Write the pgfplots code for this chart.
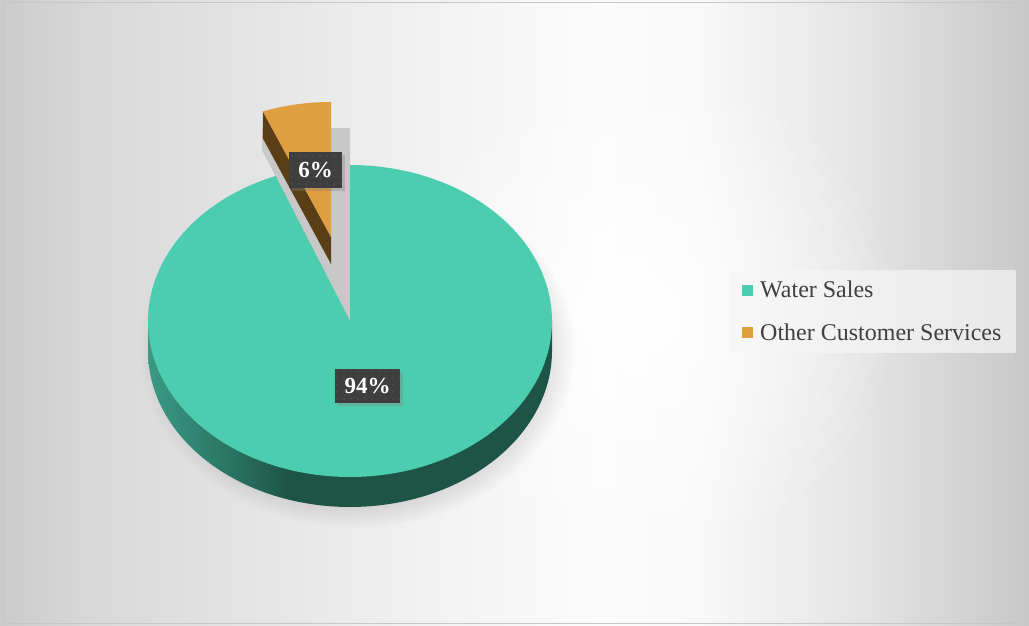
\documentclass[border=0pt]{standalone}
\usepackage{pgfplots}
\pgfplotsset{compat=1.18}
\usepackage{pgfplotstable}
\usepackage{fontspec}
\setmainfont{Liberation Serif}
\usetikzlibrary{shadows,patterns.meta,fadings}

\definecolor{tealtop}{HTML}{4DCDB0}
\definecolor{tealL}{HTML}{3A9A84}
\definecolor{tealM}{HTML}{2A7564}
\definecolor{tealD}{HTML}{1E5446}
\definecolor{orgtop}{HTML}{DF9E3F}
\definecolor{orgside}{HTML}{5A3E15}
\definecolor{gapgrey}{HTML}{C8C8C8}
\definecolor{labbg}{HTML}{3E3E3E}
\definecolor{dotc}{HTML}{5C5C5C}
\definecolor{legtext}{HTML}{404040}
\definecolor{bg0}{HTML}{CBCBCB}
\definecolor{bg1}{HTML}{D9D9D9}
\definecolor{bg2}{HTML}{E4E4E4}
\definecolor{bg3}{HTML}{F3F3F3}
\definecolor{bg4}{HTML}{FBFBFB}
\definecolor{bg5}{HTML}{F8F8F8}
\definecolor{bg6}{HTML}{E6E6E6}
\definecolor{bg7}{HTML}{D5D5D5}
\definecolor{bg8}{HTML}{C8C8C8}

% TikZ maps the middle part (25bp..75bp) of a shading onto the path's bounding box
\pgfdeclarehorizontalshading{bgh}{100bp}{color(0bp)=(bg0); color(25bp)=(bg0); color(29.85bp)=(bg1); color(37.15bp)=(bg2); color(46.85bp)=(bg3); color(54.15bp)=(bg4); color(59bp)=(bg5); color(66.3bp)=(bg6); color(71.15bp)=(bg7); color(75bp)=(bg8); color(100bp)=(bg8)}
\pgfdeclarehorizontalshading{tealside}{100bp}{color(0bp)=(tealL); color(25bp)=(tealL); color(35bp)=(tealM); color(42.5bp)=(tealD); color(100bp)=(tealD)}
\tikzfading[name=softglow, inner color=transparent!0, outer color=transparent!100]

\pgfplotstableread{
label value
WaterSales 94
OtherCustomerServices 6
}\piedata

\begin{document}
\begin{tikzpicture}
\pgfplotstablegetelem{1}{value}\of\piedata
\let\vB\pgfplotsretval
\pgfmathsetmacro\angB{90+3.6*\vB}
% exploded slice geometry
\pgfmathsetmacro\Px{331+185*cos(\angB)}
\pgfmathsetmacro\Py{237-135*sin(\angB)}
\pgfmathsetmacro\Pyd{\Py+27}
\begin{axis}[
  scale only axis, width=1029pt, height=626pt,
  xmin=0, xmax=1029, ymin=0, ymax=626, y dir=reverse,
  hide axis, clip=true,
  legend style={at={(axis cs:730,270)}, anchor=north west, draw=none,
    shade, left color=white!97!black, right color=white!91!black,
    text=legtext, font=\fontsize{24}{28}\selectfont,
    inner xsep=12pt, inner ysep=9pt, row sep=20pt,
    /tikz/every odd column/.append style={column sep=5pt}},
  legend cell align=left,
  legend image code/.code={\fill[#1] (0pt,-5.5pt) rectangle (11pt,5.5pt);},
]
% background
\path[shading=bgh] (axis cs:0,0) rectangle (axis cs:1029,626);
\fill[white, opacity=0.8, path fading=softglow] (axis cs:380,60) rectangle (axis cs:900,566);
% pie shadow
\addplot[forget plot, draw=none, fill=black, fill opacity=0.16,
  path fading=circle with fuzzy edge 20 percent, domain=0:360, samples=120]
  ({357+218*cos(x)},{350-178*sin(x)}) -- cycle;
% teal side
\addplot[forget plot, draw=none, shading=tealside, domain=180:360, samples=120]
  ({350+202*cos(x)},{351-156*sin(x)}) -- (axis cs:552,321) -- (axis cs:148,321) -- cycle;
% gap shadow
\addplot[forget plot, draw=none, fill=gapgrey]
  coordinates {(331,128) (350,128) (350,321) (262,150) (262,128)} -- cycle;
% teal top
\addplot[draw=none, fill=tealtop, domain=\angB:450, samples=180]
  ({350+202*cos(x)},{321-156*sin(x)}) -- (axis cs:350,321) -- cycle;
\addlegendentry{Water Sales}
% orange side
\addplot[forget plot, draw=none, fill=orgside]
  coordinates {(\Px,\Py) (331,237) (331,264) (\Px,\Pyd)} -- cycle;
% orange top
\addplot[draw=none, fill=orgtop, domain=90:\angB, samples=40]
  ({331+185*cos(x)},{237-135*sin(x)}) -- (axis cs:331,237) -- cycle;
\addlegendentry{Other Customer Services}
% data labels
\node[fill=labbg, text=white, font=\bfseries\fontsize{23}{23}\selectfont,
  minimum width=53pt, minimum height=36pt, inner sep=0pt,
  drop shadow={opacity=0.35, shadow xshift=3pt, shadow yshift=-3pt},
  postaction={pattern={Dots[distance=6.5pt, radius=0.8pt]}, pattern color=dotc}]
  at (axis cs:315.5,170) {6\%};
\node[fill=labbg, text=white, font=\bfseries\fontsize{23}{23}\selectfont,
  minimum width=65pt, minimum height=34pt, inner sep=0pt,
  drop shadow={opacity=0.35, shadow xshift=3pt, shadow yshift=-3pt},
  postaction={pattern={Dots[distance=6.5pt, radius=0.8pt]}, pattern color=dotc}]
  at (axis cs:367.5,386) {94\%};
% border
\draw[gray!45, line width=1pt] (axis cs:3.5,2.5) rectangle (axis cs:1025.5,623.5);
\end{axis}
\pgfresetboundingbox
\path[use as bounding box] (current axis.south west) rectangle (current axis.north east);
\end{tikzpicture}
\end{document}
